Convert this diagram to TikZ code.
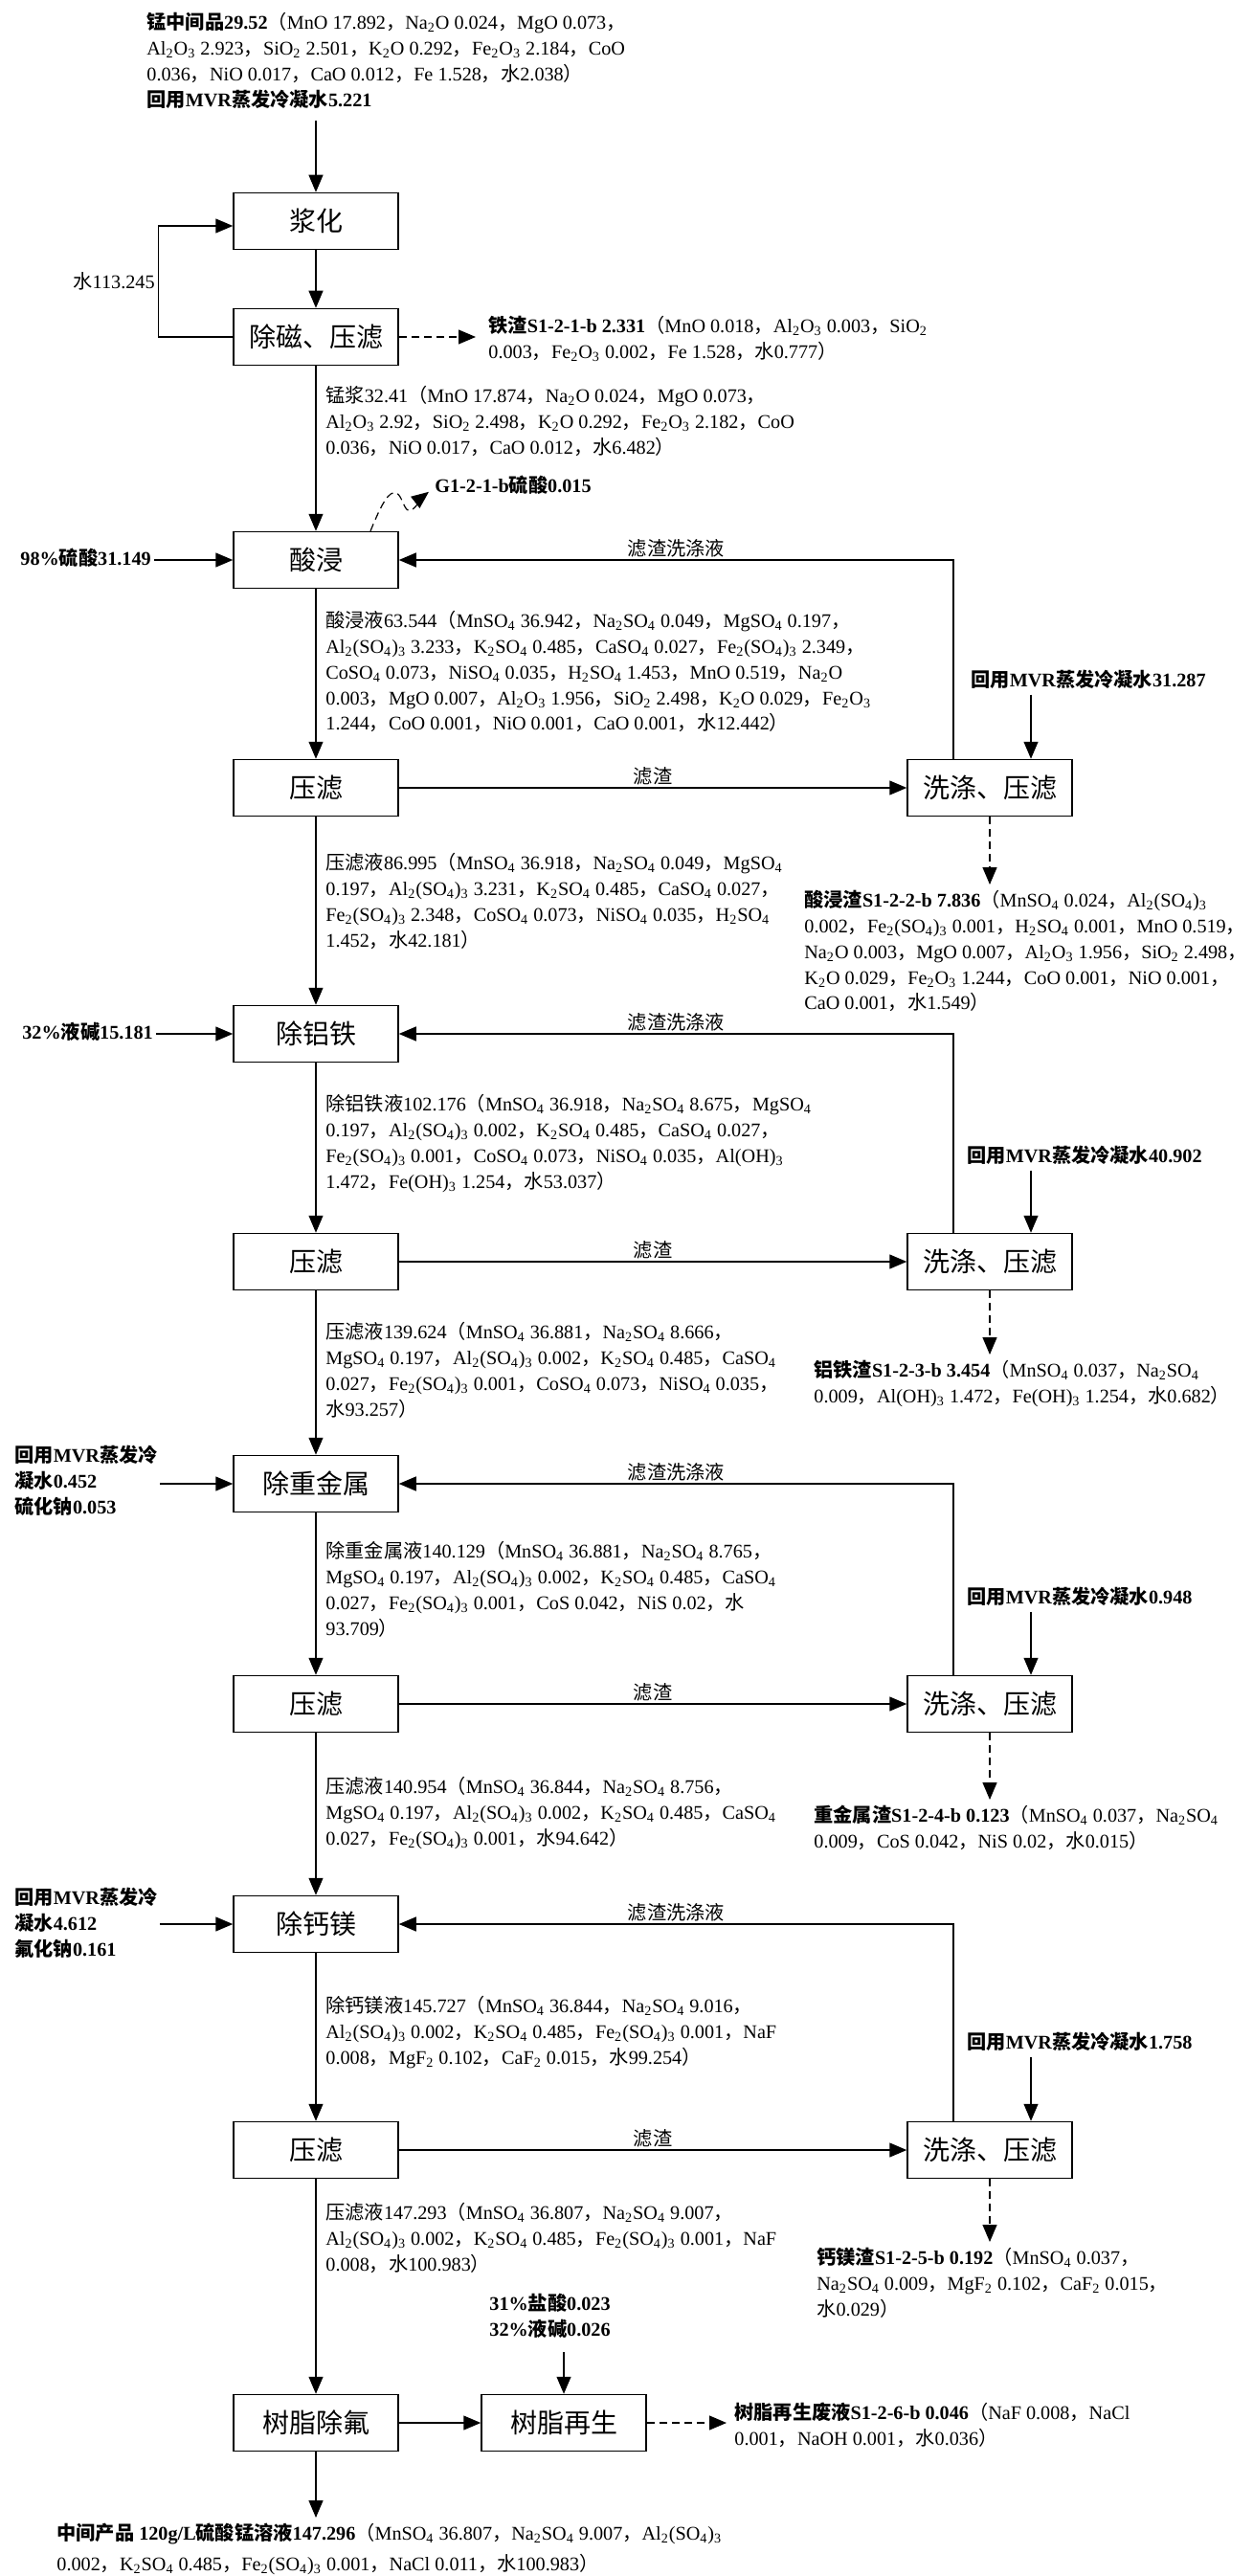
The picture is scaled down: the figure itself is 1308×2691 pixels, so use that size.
\documentclass[tikz,border=0pt]{standalone}
\usepackage{fontspec}
\setmainfont{Liberation Serif}
\newfontfamily\cjkfont{Noto Sans CJK SC}
\usetikzlibrary{arrows.meta}

% Chinese characters and full-width punctuation go to the CJK family
\XeTeXinterchartokenstate=1
\newXeTeXintercharclass\cjkclass
\newcount\cjkcode
\cjkcode="4E00
\loop
  \XeTeXcharclass\cjkcode=\cjkclass
  \advance\cjkcode by 1
\ifnum\cjkcode<"A000\repeat
\XeTeXcharclass"3001=\cjkclass
\XeTeXcharclass"FF08=\cjkclass
\XeTeXcharclass"FF09=\cjkclass
\XeTeXcharclass"FF0C=\cjkclass
\XeTeXinterchartoks 0 \cjkclass={\begingroup\cjkfont}
\XeTeXinterchartoks 4095 \cjkclass={\begingroup\cjkfont}
\XeTeXinterchartoks \cjkclass 0={\endgroup}
\XeTeXinterchartoks \cjkclass 4095={\endgroup}

\newcommand\sbs[1]{\textsubscript{#1}}
\newcommand\infofont{\fontsize{10.1}{13.4}\selectfont}
\newcommand\boxfont{\fontsize{14}{16}\selectfont}

\tikzset{
  proc/.style={draw, line width=0.75pt, minimum width=86pt, minimum height=29.5pt, inner sep=0pt, font=\boxfont},
  info/.style={anchor=north west, inner sep=0pt, align=left, font=\infofont, execute at begin node=\strut},
  feed/.style={info, font=\infofont\bfseries},
  tag/.style={above, inner sep=1pt, font=\infofont},
  flow/.style={line width=0.6pt, -{Triangle[length=9pt,width=7.5pt]}},
  waste/.style={flow, dash pattern=on 4pt off 2.5pt}
}

\begin{document}
\begin{tikzpicture}[x=0.5pt, y=-0.5pt]
\useasboundingbox (0,0) rectangle (1308,2691);

% process steps
\node[proc] (slurry) at (330,231)  {浆化};
\node[proc] (demag)  at (330,352)  {除磁、压滤};
\node[proc] (leach)  at (330,585)  {酸浸};
\node[proc] (press1) at (330,823)  {压滤};
\node[proc] (alfe)   at (330,1080) {除铝铁};
\node[proc] (press2) at (330,1318) {压滤};
\node[proc] (heavy)  at (330,1550) {除重金属};
\node[proc] (press3) at (330,1780) {压滤};
\node[proc] (camg)   at (330,2010) {除钙镁};
\node[proc] (press4) at (330,2246) {压滤};
\node[proc] (defl)   at (330,2531) {树脂除氟};
\node[proc] (regen)  at (589,2531) {树脂再生};
\node[proc] (wash1)  at (1034,823)  {洗涤、压滤};
\node[proc] (wash2)  at (1034,1318) {洗涤、压滤};
\node[proc] (wash3)  at (1034,1780) {洗涤、压滤};
\node[proc] (wash4)  at (1034,2246) {洗涤、压滤};

% feeds
\node[info] (feed0) at (153,13) {\textbf{锰中间品29.52}（MnO 17.892，Na\sbs2O 0.024，MgO 0.073，\\
Al\sbs2O\sbs3 2.923，SiO\sbs2 2.501，K\sbs2O 0.292，Fe\sbs2O\sbs3 2.184，CoO\\
0.036，NiO 0.017，CaO 0.012，Fe 1.528，水2.038）\\
\textbf{回用MVR蒸发冷凝水5.221}};
\node[feed, anchor=west] (acid) at (21,585) {98\%硫酸31.149};
\node[feed, anchor=west] (lye) at (23,1080) {32\%液碱15.181};
\node[feed, anchor=west] (hmfeed) at (15,1550) {回用MVR蒸发冷\\凝水0.452\\硫化钠0.053};
\node[feed, anchor=west] (cmfeed) at (15,2012) {回用MVR蒸发冷\\凝水4.612\\氟化钠0.161};
\node[feed] (mvr1) at (1014,698)  {回用MVR蒸发冷凝水31.287};
\node[feed] (mvr2) at (1010,1195) {回用MVR蒸发冷凝水40.902};
\node[feed] (mvr3) at (1010,1656) {回用MVR蒸发冷凝水0.948};
\node[feed] (mvr4) at (1010,2121) {回用MVR蒸发冷凝水1.758};
\node[feed] (hcl) at (511,2396) {31\%盐酸0.023\\32\%液碱0.026};

% streams between steps
\node[info] (slurryliq) at (340,403) {锰浆32.41（MnO 17.874，Na\sbs2O 0.024，MgO 0.073，\\
Al\sbs2O\sbs3 2.92，SiO\sbs2 2.498，K\sbs2O 0.292，Fe\sbs2O\sbs3 2.182，CoO\\
0.036，NiO 0.017，CaO 0.012，水6.482）};
\node[info] (leachliq) at (340,638) {酸浸液63.544（MnSO\sbs4 36.942，Na\sbs2SO\sbs4 0.049，MgSO\sbs4 0.197，\\
Al\sbs2(SO\sbs4)\sbs3 3.233，K\sbs2SO\sbs4 0.485，CaSO\sbs4 0.027，Fe\sbs2(SO\sbs4)\sbs3 2.349，\\
CoSO\sbs4 0.073，NiSO\sbs4 0.035，H\sbs2SO\sbs4 1.453，MnO 0.519，Na\sbs2O\\
0.003，MgO 0.007，Al\sbs2O\sbs3 1.956，SiO\sbs2 2.498，K\sbs2O 0.029，Fe\sbs2O\sbs3\\
1.244，CoO 0.001，NiO 0.001，CaO 0.001，水12.442）};
\node[info] (press1liq) at (340,891) {压滤液86.995（MnSO\sbs4 36.918，Na\sbs2SO\sbs4 0.049，MgSO\sbs4\\
0.197，Al\sbs2(SO\sbs4)\sbs3 3.231，K\sbs2SO\sbs4 0.485，CaSO\sbs4 0.027，\\
Fe\sbs2(SO\sbs4)\sbs3 2.348，CoSO\sbs4 0.073，NiSO\sbs4 0.035，H\sbs2SO\sbs4\\
1.452，水42.181）};
\node[info] (alfeliq) at (340,1143) {除铝铁液102.176（MnSO\sbs4 36.918，Na\sbs2SO\sbs4 8.675，MgSO\sbs4\\
0.197，Al\sbs2(SO\sbs4)\sbs3 0.002，K\sbs2SO\sbs4 0.485，CaSO\sbs4 0.027，\\
Fe\sbs2(SO\sbs4)\sbs3 0.001，CoSO\sbs4 0.073，NiSO\sbs4 0.035，Al(OH)\sbs3\\
1.472，Fe(OH)\sbs3 1.254，水53.037）};
\node[info] (press2liq) at (340,1381) {压滤液139.624（MnSO\sbs4 36.881，Na\sbs2SO\sbs4 8.666，\\
MgSO\sbs4 0.197，Al\sbs2(SO\sbs4)\sbs3 0.002，K\sbs2SO\sbs4 0.485，CaSO\sbs4\\
0.027，Fe\sbs2(SO\sbs4)\sbs3 0.001，CoSO\sbs4 0.073，NiSO\sbs4 0.035，\\
水93.257）};
\node[info] (heavyliq) at (340,1610) {除重金属液140.129（MnSO\sbs4 36.881，Na\sbs2SO\sbs4 8.765，\\
MgSO\sbs4 0.197，Al\sbs2(SO\sbs4)\sbs3 0.002，K\sbs2SO\sbs4 0.485，CaSO\sbs4\\
0.027，Fe\sbs2(SO\sbs4)\sbs3 0.001，CoS 0.042，NiS 0.02，水\\
93.709）};
\node[info] (press3liq) at (340,1856) {压滤液140.954（MnSO\sbs4 36.844，Na\sbs2SO\sbs4 8.756，\\
MgSO\sbs4 0.197，Al\sbs2(SO\sbs4)\sbs3 0.002，K\sbs2SO\sbs4 0.485，CaSO\sbs4\\
0.027，Fe\sbs2(SO\sbs4)\sbs3 0.001，水94.642）};
\node[info] (camgliq) at (340,2085) {除钙镁液145.727（MnSO\sbs4 36.844，Na\sbs2SO\sbs4 9.016，\\
Al\sbs2(SO\sbs4)\sbs3 0.002，K\sbs2SO\sbs4 0.485，Fe\sbs2(SO\sbs4)\sbs3 0.001，NaF\\
0.008，MgF\sbs2 0.102，CaF\sbs2 0.015，水99.254）};
\node[info] (press4liq) at (340,2301) {压滤液147.293（MnSO\sbs4 36.807，Na\sbs2SO\sbs4 9.007，\\
Al\sbs2(SO\sbs4)\sbs3 0.002，K\sbs2SO\sbs4 0.485，Fe\sbs2(SO\sbs4)\sbs3 0.001，NaF\\
0.008，水100.983）};

% residues, off-gas and product
\node[info] (iron) at (510,330) {\textbf{铁渣S1-2-1-b 2.331}（MnO 0.018，Al\sbs2O\sbs3 0.003，SiO\sbs2\\
0.003，Fe\sbs2O\sbs3 0.002，Fe 1.528，水0.777）};
\node[feed] (g1) at (454,495) {G1-2-1-b硫酸0.015};
\node[info] (res1) at (840,930) {\textbf{酸浸渣S1-2-2-b 7.836}（MnSO\sbs4 0.024，Al\sbs2(SO\sbs4)\sbs3\\
0.002，Fe\sbs2(SO\sbs4)\sbs3 0.001，H\sbs2SO\sbs4 0.001，MnO 0.519，\\
Na\sbs2O 0.003，MgO 0.007，Al\sbs2O\sbs3 1.956，SiO\sbs2 2.498，\\
K\sbs2O 0.029，Fe\sbs2O\sbs3 1.244，CoO 0.001，NiO 0.001，\\
CaO 0.001，水1.549）};
\node[info] (res2) at (850,1421) {\textbf{铝铁渣S1-2-3-b 3.454}（MnSO\sbs4 0.037，Na\sbs2SO\sbs4\\
0.009，Al(OH)\sbs3 1.472，Fe(OH)\sbs3 1.254，水0.682）};
\node[info] (res3) at (850,1886) {\textbf{重金属渣S1-2-4-b 0.123}（MnSO\sbs4 0.037，Na\sbs2SO\sbs4\\
0.009，CoS 0.042，NiS 0.02，水0.015）};
\node[info] (res4) at (853,2348) {\textbf{钙镁渣S1-2-5-b 0.192}（MnSO\sbs4 0.037，\\
Na\sbs2SO\sbs4 0.009，MgF\sbs2 0.102，CaF\sbs2 0.015，\\
水0.029）};
\node[info] (rinse) at (767,2510) {\textbf{树脂再生废液S1-2-6-b 0.046}（NaF 0.008，NaCl\\
0.001，NaOH 0.001，水0.036）};
\node[info] (prod) at (59,2636) {\textbf{中间产品 120g/L硫酸锰溶液147.296}（MnSO\sbs4 36.807，Na\sbs2SO\sbs4 9.007，Al\sbs2(SO\sbs4)\sbs3\\[2.5pt]
0.002，K\sbs2SO\sbs4 0.485，Fe\sbs2(SO\sbs4)\sbs3 0.001，NaCl 0.011，水100.983）};

% main line
\draw[flow, shorten <=3pt] (feed0.south -| slurry) -- (slurry);
\draw[flow] (slurry) -- (demag);
\draw[flow] (demag.west) -- ++(-78,0) |- ([yshift=-2.5pt]slurry.west)
  node[pos=0.25, left=0pt, inner sep=1.5pt, font=\infofont] {水113.245};
\draw[flow] (demag) -- (leach);
\draw[flow] (leach) -- (press1);
\draw[flow] (press1) -- (alfe);
\draw[flow] (alfe) -- (press2);
\draw[flow] (press2) -- (heavy);
\draw[flow] (heavy) -- (press3);
\draw[flow] (press3) -- (camg);
\draw[flow] (camg) -- (press4);
\draw[flow] (press4) -- (defl);
\draw[flow] (defl) -- (regen);
\draw[flow, shorten >=3pt] (defl) -- (defl |- prod.north);

% reagents in
\draw[flow, shorten <=1.5pt] (acid) -- (leach);
\draw[flow, shorten <=1.5pt] (lye) -- (alfe);
\draw[flow, shorten <=1pt] (hmfeed.east |- heavy) -- (heavy);
\draw[flow, shorten <=1pt] (cmfeed.east |- camg) -- (camg);
\draw[flow, shorten <=4pt] (hcl.south -| regen) -- (regen);

% cake washing loops
\foreach \p/\w/\b/\m in {press1/wash1/leach/mvr1, press2/wash2/alfe/mvr2,
                         press3/wash3/heavy/mvr3, press4/wash4/camg/mvr4}{
  \draw[flow] (\p) -- (\w) node[midway, tag] {滤渣};
  \draw[flow] ([xshift=-19pt]\w.north) |- (\b) node[pos=0.75, tag] {滤渣洗涤液};
  \coordinate (\m in) at ([xshift=21.5pt]\w.north);
  \draw[flow] (\m.south -| \m in) -- (\m in);
}

% discharges
\draw[waste, shorten >=6.5pt] (demag) -- (demag -| iron.west);
\draw[waste] ([xshift=28.5pt]leach.north) .. controls (398,528) and (406,512) .. (414,515)
  .. controls (421,518) and (422,536) .. (429,533)
  .. controls (436,530) and (440,520) .. ([shift={(-6,5)}]g1.west);
\draw[waste, shorten >=3pt] (wash1) -- (wash1 |- res1.north);
\draw[waste, shorten >=3pt] (wash2) -- (wash2 |- res2.north);
\draw[waste, shorten >=3pt] (wash3) -- (wash3 |- res3.north);
\draw[waste, shorten >=3pt] (wash4) -- (wash4 |- res4.north);
\draw[waste, shorten >=4pt] (regen) -- (regen -| rinse.west);
\end{tikzpicture}
\end{document}
